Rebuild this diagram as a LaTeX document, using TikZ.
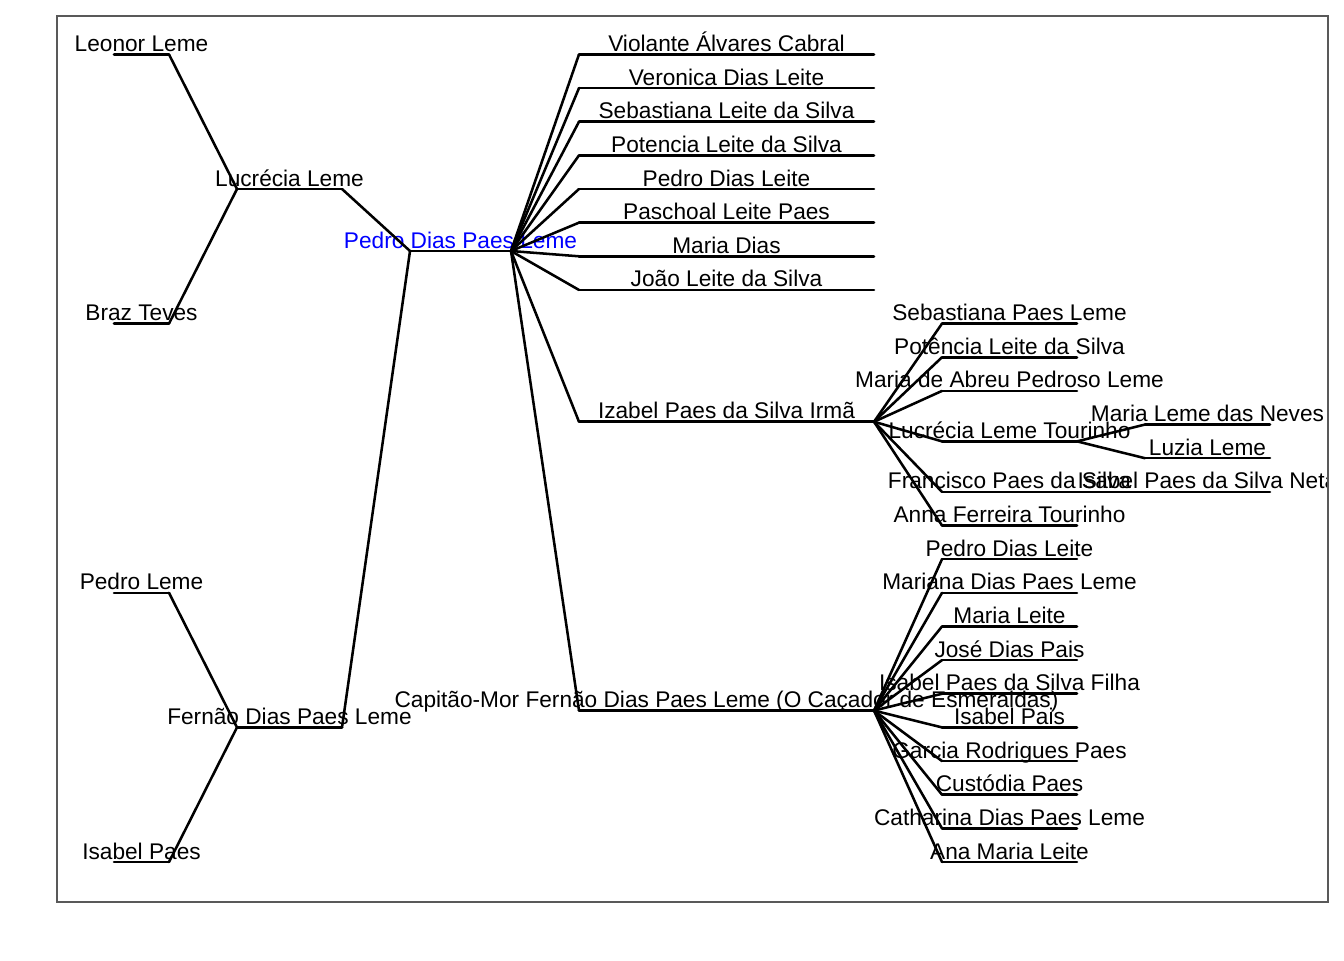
\documentclass[tikz,border=0pt]{standalone}
\usepackage{fontspec}
\setmainfont{Liberation Sans}
\usetikzlibrary{calc}
\tikzset{
  seg/.style={line width=1.9pt, line cap=round, draw=black},
  lbl/.style={anchor=base, inner sep=0pt, font=\fontsize{17}{20}\selectfont},
  rootlbl/.style={lbl, text=blue},
  frame/.style={draw=black!65, line width=0.8pt}
}
\newcommand\mkperson[6][lbl]{%
  \coordinate (#2l) at (#3,#5);
  \coordinate (#2r) at (#4,#5);
  \draw[seg] (#2l) -- (#2r);
  \node[#1] (#2) at ($(#2l)!0.5!(#2r)+(0,-3)$) {#6};}
\begin{document}
\begin{tikzpicture}[x=0.75pt,y=-0.75pt]
\useasboundingbox (0,0) rectangle (1344,960);
\begin{scope}
\clip (57,16) rectangle (1328,902);
% ancestors
\mkperson{leonor}{114}{169}{54.4}{Leonor Leme}
\mkperson{braz}{114}{169}{323.6}{Braz Teves}
\mkperson{pedroleme}{114}{169}{592.8}{Pedro Leme}
\mkperson{isabelpaes}{114}{169}{862.0}{Isabel Paes}
\mkperson{lucrecia}{237}{342}{189.0}{Lucrécia Leme}
\mkperson{fernao}{237}{342}{727.4}{Fernão Dias Paes Leme}
% root
\mkperson[rootlbl]{root}{410}{511}{251.0}{Pedro Dias Paes Leme}
% children
\mkperson{c1}{579}{874}{54.4}{Violante Álvares Cabral}
\mkperson{c2}{579}{874}{88.05}{Veronica Dias Leite}
\mkperson{c3}{579}{874}{121.7}{Sebastiana Leite da Silva}
\mkperson{c4}{579}{874}{155.35}{Potencia Leite da Silva}
\mkperson{c5}{579}{874}{189.0}{Pedro Dias Leite}
\mkperson{c6}{579}{874}{222.65}{Paschoal Leite Paes}
\mkperson{c7}{579}{874}{256.3}{Maria Dias}
\mkperson{c8}{579}{874}{289.95}{João Leite da Silva}
\mkperson{izabel}{579}{874}{421.75}{Izabel Paes da Silva Irmã}
\mkperson{capitao}{579}{874}{710.575}{Capitão-Mor Fernão Dias Paes Leme (O Caçador de Esmeraldas)}
% grandchildren via Izabel
\mkperson{g1}{942}{1077}{323.6}{Sebastiana Paes Leme}
\mkperson{g2}{942}{1077}{357.25}{Potência Leite da Silva}
\mkperson{g3}{942}{1077}{390.9}{Maria de Abreu Pedroso Leme}
\mkperson{lucT}{942}{1077}{441.375}{Lucrécia Leme Tourinho}
\mkperson{francisco}{942}{1077}{491.85}{Francisco Paes da Silva}
\mkperson{g6}{942}{1077}{525.5}{Anna Ferreira Tourinho}
% grandchildren via Capitao
\mkperson{h1}{942}{1077}{559.15}{Pedro Dias Leite}
\mkperson{h2}{942}{1077}{592.8}{Mariana Dias Paes Leme}
\mkperson{h3}{942}{1077}{626.45}{Maria Leite}
\mkperson{h4}{942}{1077}{660.1}{José Dias Pais}
\mkperson{h5}{942}{1077}{693.75}{Isabel Paes da Silva Filha}
\mkperson{h6}{942}{1077}{727.4}{Isabel Pais}
\mkperson{h7}{942}{1077}{761.05}{Garcia Rodrigues Paes}
\mkperson{h8}{942}{1077}{794.7}{Custódia Paes}
\mkperson{h9}{942}{1077}{828.35}{Catharina Dias Paes Leme}
\mkperson{h10}{942}{1077}{862.0}{Ana Maria Leite}
% great-grandchildren
\mkperson{neves}{1145}{1270}{424.55}{Maria Leme das Neves}
\mkperson{luzia}{1145}{1270}{458.2}{Luzia Leme}
\mkperson{neta}{1145}{1270}{491.85}{Isabel Paes da Silva Neta}
% connectors
\draw[seg] (leonorr) -- (lucrecial);
\draw[seg] (brazr) -- (lucrecial);
\draw[seg] (pedrolemer) -- (fernaol);
\draw[seg] (isabelpaesr) -- (fernaol);
\draw[seg] (lucreciar) -- (rootl);
\draw[seg] (fernaor) -- (rootl);
\foreach \c in {c1,c2,c3,c4,c5,c6,c7,c8,izabel,capitao}
  \draw[seg] (rootr) -- (\c l);
\foreach \c in {g1,g2,g3,lucT,francisco,g6}
  \draw[seg] (izabelr) -- (\c l);
\foreach \c in {h1,h2,h3,h4,h5,h6,h7,h8,h9,h10}
  \draw[seg] (capitaor) -- (\c l);
\draw[seg] (lucTr) -- (nevesl);
\draw[seg] (lucTr) -- (luzial);
\draw[seg] (franciscor) -- (netal);
\end{scope}
\draw[frame] (57,16) rectangle (1328,902);
\end{tikzpicture}
\end{document}
